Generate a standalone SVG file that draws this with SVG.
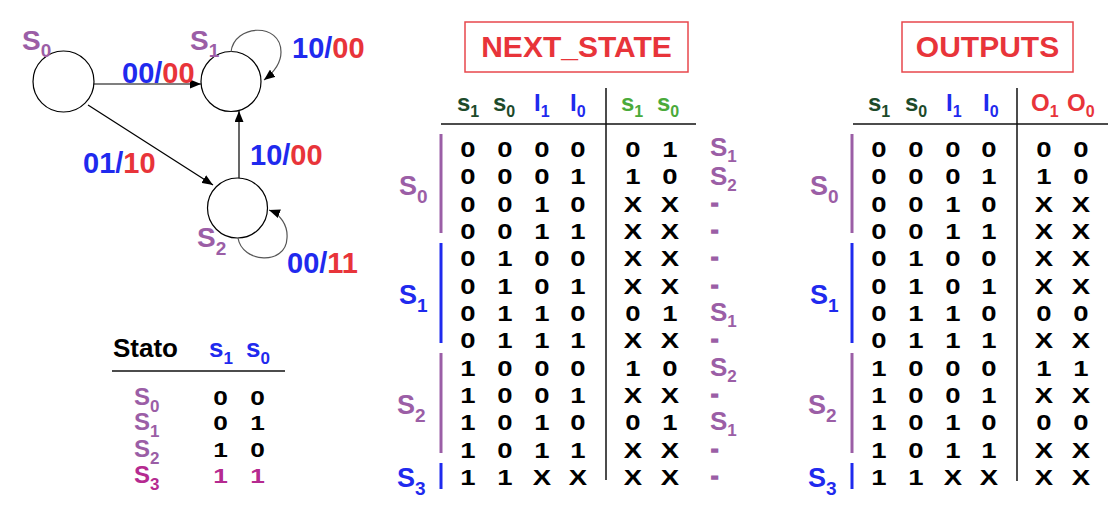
<svg xmlns="http://www.w3.org/2000/svg" width="1111" height="529" viewBox="0 0 1111 529">
<style>
text{font-family:"Liberation Sans",Arial,Helvetica,sans-serif;font-weight:bold}
.pu{fill:#9b5ea6}.bl{fill:#1f2aee}.rd{fill:#e8343a}.dg{fill:#1d4a2a}.lg{fill:#4aaa3a}.mg{fill:#b52a90}.bk{fill:#000}
.sl{font-size:28px}
.el{font-size:29px}
.d{font-size:22px;text-anchor:middle;fill:#000}
.h{font-size:24px}
.lb{font-size:27px}
.rl{font-size:26px}
.dash{font-size:22px;fill:#9b5ea6;stroke:#9b5ea6;stroke-width:1.6}
.ttl{font-size:30px;text-anchor:middle;fill:#e8343a}
.box{fill:none;stroke:#e8474c;stroke-width:1.5}
.node{fill:#fff;stroke:#000;stroke-width:1.2}
.edge{stroke:#000;stroke-width:1.2;fill:none}
.loop{stroke:#555;stroke-width:1.2;fill:none}
.rule{stroke:#111;stroke-width:1.5}
.barp{stroke:#9b5ea6;stroke-width:3}
.barb{stroke:#1f2aee;stroke-width:3}
</style>
<defs>
<marker id="ah" viewBox="0 0 11 9" refX="11" refY="4.5" markerWidth="11" markerHeight="9" markerUnits="userSpaceOnUse" orient="auto"><path d="M0,0 L11,4.5 L0,9z" fill="#000"/></marker>
</defs>

<!-- state diagram nodes -->
<g id="S0">
<circle class="node" cx="63.5" cy="81.5" r="30.5"/>
<text class="sl pu" x="22" y="50">S<tspan dy="7" font-size="19">0</tspan></text>
</g>
<g id="S1">
<circle class="node" cx="231" cy="81.5" r="30"/>
<text class="sl pu" x="190" y="50">S<tspan dy="7" font-size="19">1</tspan></text>
</g>
<g id="S2">
<circle class="node" cx="237.5" cy="208" r="30"/>
<text class="sl pu" x="197" y="247">S<tspan dy="8" font-size="19">2</tspan></text>
</g>

<!-- connectors -->
<g id="connectors">
<path class="edge" d="M94,84 H201" marker-end="url(#ah)"/>
<path class="edge" d="M88,105 L213,185" marker-end="url(#ah)"/>
<path class="edge" d="M239,178 V111" marker-end="url(#ah)"/>
<path class="loop" d="M231,52 C234,24 281,22 281,52 C281,63 273,73 264,80" marker-end="url(#ah)"/>
<path class="loop" d="M238,238 C242,263 286,266 287,238 C288,225 280,214 269,210" marker-end="url(#ah)"/>
<text class="el" x="122" y="83"><tspan class="bl">00/</tspan><tspan class="rd">00</tspan></text>
<text class="el" x="83" y="173"><tspan class="bl">01/</tspan><tspan class="rd">10</tspan></text>
<text class="el" x="250" y="165"><tspan class="bl">10/</tspan><tspan class="rd">00</tspan></text>
<text class="el" x="292" y="58"><tspan class="bl">10/</tspan><tspan class="rd">00</tspan></text>
<text class="el" x="287" y="273"><tspan class="bl">00/</tspan><tspan class="rd">11</tspan></text>
</g>

<!-- Stato table -->
<g id="stato">
<text class="bk" font-size="26" x="113" y="357">Stato</text>
<text class="bl" font-size="26" x="209" y="357">s<tspan dy="7" font-size="17">1</tspan></text>
<text class="bl" font-size="26" x="246" y="357">s<tspan dy="7" font-size="17">0</tspan></text>
<line class="rule" x1="112" y1="371" x2="285" y2="371"/>
<text class="pu" font-size="24" x="134" y="405">S<tspan dy="7" font-size="17">0</tspan></text>
<text class="pu" font-size="24" x="134" y="430">S<tspan dy="7" font-size="17">1</tspan></text>
<text class="pu" font-size="24" x="134" y="457">S<tspan dy="7" font-size="17">2</tspan></text>
<text class="mg" font-size="24" x="134" y="483">S<tspan dy="7" font-size="17">3</tspan></text>
<g font-size="21" text-anchor="middle" transform="scale(1.25,1)">
<text class="bk" x="176.4 191.2 206" y="405">0 0</text>
<text class="bk" x="176.4 191.2 206" y="430">0 1</text>
<text class="bk" x="176.4 191.2 206" y="457">1 0</text>
<text class="mg" x="176.4 191.2 206" y="483">1 1</text>
</g>
</g>

<!-- NEXT_STATE table -->
<g id="next_state">
<rect class="box" x="465" y="22" width="223" height="50"/>
<text class="ttl" x="576.5" y="57">NEXT_STATE</text>
<text class="h dg" x="457" y="111">s<tspan dy="6" font-size="16">1</tspan></text>
<text class="h dg" x="493" y="111">s<tspan dy="6" font-size="16">0</tspan></text>
<text class="h bl" x="534" y="111">I<tspan dy="6" font-size="16">1</tspan></text>
<text class="h bl" x="570" y="111">I<tspan dy="6" font-size="16">0</tspan></text>
<text class="h lg" x="621" y="111">s<tspan dy="6" font-size="16">1</tspan></text>
<text class="h lg" x="657" y="111">s<tspan dy="6" font-size="16">0</tspan></text>
<line class="rule" x1="441" y1="124" x2="696" y2="124"/>
<line class="rule" x1="606" y1="88" x2="606" y2="480"/>
<line class="barp" x1="441" y1="134" x2="441" y2="233"/>
<line class="barb" x1="441" y1="243" x2="441" y2="343"/>
<line class="barp" x1="441" y1="353" x2="441" y2="453"/>
<line class="barb" x1="441" y1="463" x2="441" y2="489"/>
<text class="lb pu" x="399" y="195">S<tspan dy="8" font-size="19">0</tspan></text>
<text class="lb bl" x="399" y="304">S<tspan dy="8" font-size="19">1</tspan></text>
<text class="lb pu" x="397" y="414">S<tspan dy="8" font-size="19">2</tspan></text>
<text class="lb bl" x="397" y="487">S<tspan dy="8" font-size="19">3</tspan></text>
<g class="d" transform="scale(1.25,1)">
<text x="374.4 388.8 404 418.4 433.6 448 462.4" y="157">0 0 0 0</text><text x="506.4 520.8 536" y="157">0 1</text>
<text x="374.4 388.8 404 418.4 433.6 448 462.4" y="184">0 0 0 1</text><text x="506.4 520.8 536" y="184">1 0</text>
<text x="374.4 388.8 404 418.4 433.6 448 462.4" y="212">0 0 1 0</text><text x="506.4 520.8 536" y="212">X X</text>
<text x="374.4 388.8 404 418.4 433.6 448 462.4" y="239">0 0 1 1</text><text x="506.4 520.8 536" y="239">X X</text>
<text x="374.4 388.8 404 418.4 433.6 448 462.4" y="266">0 1 0 0</text><text x="506.4 520.8 536" y="266">X X</text>
<text x="374.4 388.8 404 418.4 433.6 448 462.4" y="294">0 1 0 1</text><text x="506.4 520.8 536" y="294">X X</text>
<text x="374.4 388.8 404 418.4 433.6 448 462.4" y="321">0 1 1 0</text><text x="506.4 520.8 536" y="321">0 1</text>
<text x="374.4 388.8 404 418.4 433.6 448 462.4" y="348">0 1 1 1</text><text x="506.4 520.8 536" y="348">X X</text>
<text x="374.4 388.8 404 418.4 433.6 448 462.4" y="376">1 0 0 0</text><text x="506.4 520.8 536" y="376">1 0</text>
<text x="374.4 388.8 404 418.4 433.6 448 462.4" y="403">1 0 0 1</text><text x="506.4 520.8 536" y="403">X X</text>
<text x="374.4 388.8 404 418.4 433.6 448 462.4" y="430">1 0 1 0</text><text x="506.4 520.8 536" y="430">0 1</text>
<text x="374.4 388.8 404 418.4 433.6 448 462.4" y="458">1 0 1 1</text><text x="506.4 520.8 536" y="458">X X</text>
<text x="374.4 388.8 404 418.4 433.6 448 462.4" y="485">1 1 X X</text><text x="506.4 520.8 536" y="485">X X</text>
</g>
<g class="rl pu">
<text x="710" y="156">S<tspan dy="6" font-size="17">1</tspan></text>
<text x="710" y="185">S<tspan dy="6" font-size="17">2</tspan></text>
<text x="710" y="321">S<tspan dy="6" font-size="17">1</tspan></text>
<text x="710" y="376">S<tspan dy="6" font-size="17">2</tspan></text>
<text x="710" y="430">S<tspan dy="6" font-size="17">1</tspan></text>
</g>
<g class="dash">
<text x="711" y="210">-</text>
<text x="711" y="237">-</text>
<text x="711" y="264">-</text>
<text x="711" y="292">-</text>
<text x="711" y="346">-</text>
<text x="711" y="401">-</text>
<text x="711" y="456">-</text>
<text x="711" y="483">-</text>
</g>
</g>

<!-- OUTPUTS table -->
<g id="outputs">
<rect class="box" x="902" y="22" width="171" height="50"/>
<text class="ttl" x="987.5" y="57">OUTPUTS</text>
<text class="h dg" x="868" y="111">s<tspan dy="6" font-size="16">1</tspan></text>
<text class="h dg" x="905" y="111">s<tspan dy="6" font-size="16">0</tspan></text>
<text class="h bl" x="946" y="111">I<tspan dy="6" font-size="16">1</tspan></text>
<text class="h bl" x="983" y="111">I<tspan dy="6" font-size="16">0</tspan></text>
<text class="h rd" x="1031" y="111">O<tspan dy="6" font-size="16">1</tspan></text>
<text class="h rd" x="1067" y="111">O<tspan dy="6" font-size="16">0</tspan></text>
<line class="rule" x1="853" y1="124" x2="1108" y2="124"/>
<line class="rule" x1="1017" y1="88" x2="1017" y2="481"/>
<line class="barp" x1="852" y1="134" x2="852" y2="233"/>
<line class="barb" x1="852" y1="243" x2="852" y2="343"/>
<line class="barp" x1="852" y1="353" x2="852" y2="453"/>
<line class="barb" x1="852" y1="463" x2="852" y2="489"/>
<text class="lb pu" x="810" y="195">S<tspan dy="8" font-size="19">0</tspan></text>
<text class="lb bl" x="810" y="304">S<tspan dy="8" font-size="19">1</tspan></text>
<text class="lb pu" x="808" y="414">S<tspan dy="8" font-size="19">2</tspan></text>
<text class="lb bl" x="808" y="487">S<tspan dy="8" font-size="19">3</tspan></text>
<g class="d" transform="scale(1.25,1)">
<text x="703.2 717.6 732.8 747.2 762.4 776.8 791.2" y="157">0 0 0 0</text><text x="835.2 849.6 864.8" y="157">0 0</text>
<text x="703.2 717.6 732.8 747.2 762.4 776.8 791.2" y="184">0 0 0 1</text><text x="835.2 849.6 864.8" y="184">1 0</text>
<text x="703.2 717.6 732.8 747.2 762.4 776.8 791.2" y="212">0 0 1 0</text><text x="835.2 849.6 864.8" y="212">X X</text>
<text x="703.2 717.6 732.8 747.2 762.4 776.8 791.2" y="239">0 0 1 1</text><text x="835.2 849.6 864.8" y="239">X X</text>
<text x="703.2 717.6 732.8 747.2 762.4 776.8 791.2" y="266">0 1 0 0</text><text x="835.2 849.6 864.8" y="266">X X</text>
<text x="703.2 717.6 732.8 747.2 762.4 776.8 791.2" y="294">0 1 0 1</text><text x="835.2 849.6 864.8" y="294">X X</text>
<text x="703.2 717.6 732.8 747.2 762.4 776.8 791.2" y="321">0 1 1 0</text><text x="835.2 849.6 864.8" y="321">0 0</text>
<text x="703.2 717.6 732.8 747.2 762.4 776.8 791.2" y="348">0 1 1 1</text><text x="835.2 849.6 864.8" y="348">X X</text>
<text x="703.2 717.6 732.8 747.2 762.4 776.8 791.2" y="376">1 0 0 0</text><text x="835.2 849.6 864.8" y="376">1 1</text>
<text x="703.2 717.6 732.8 747.2 762.4 776.8 791.2" y="403">1 0 0 1</text><text x="835.2 849.6 864.8" y="403">X X</text>
<text x="703.2 717.6 732.8 747.2 762.4 776.8 791.2" y="430">1 0 1 0</text><text x="835.2 849.6 864.8" y="430">0 0</text>
<text x="703.2 717.6 732.8 747.2 762.4 776.8 791.2" y="458">1 0 1 1</text><text x="835.2 849.6 864.8" y="458">X X</text>
<text x="703.2 717.6 732.8 747.2 762.4 776.8 791.2" y="485">1 1 X X</text><text x="835.2 849.6 864.8" y="485">X X</text>
</g>
</g>
</svg>
